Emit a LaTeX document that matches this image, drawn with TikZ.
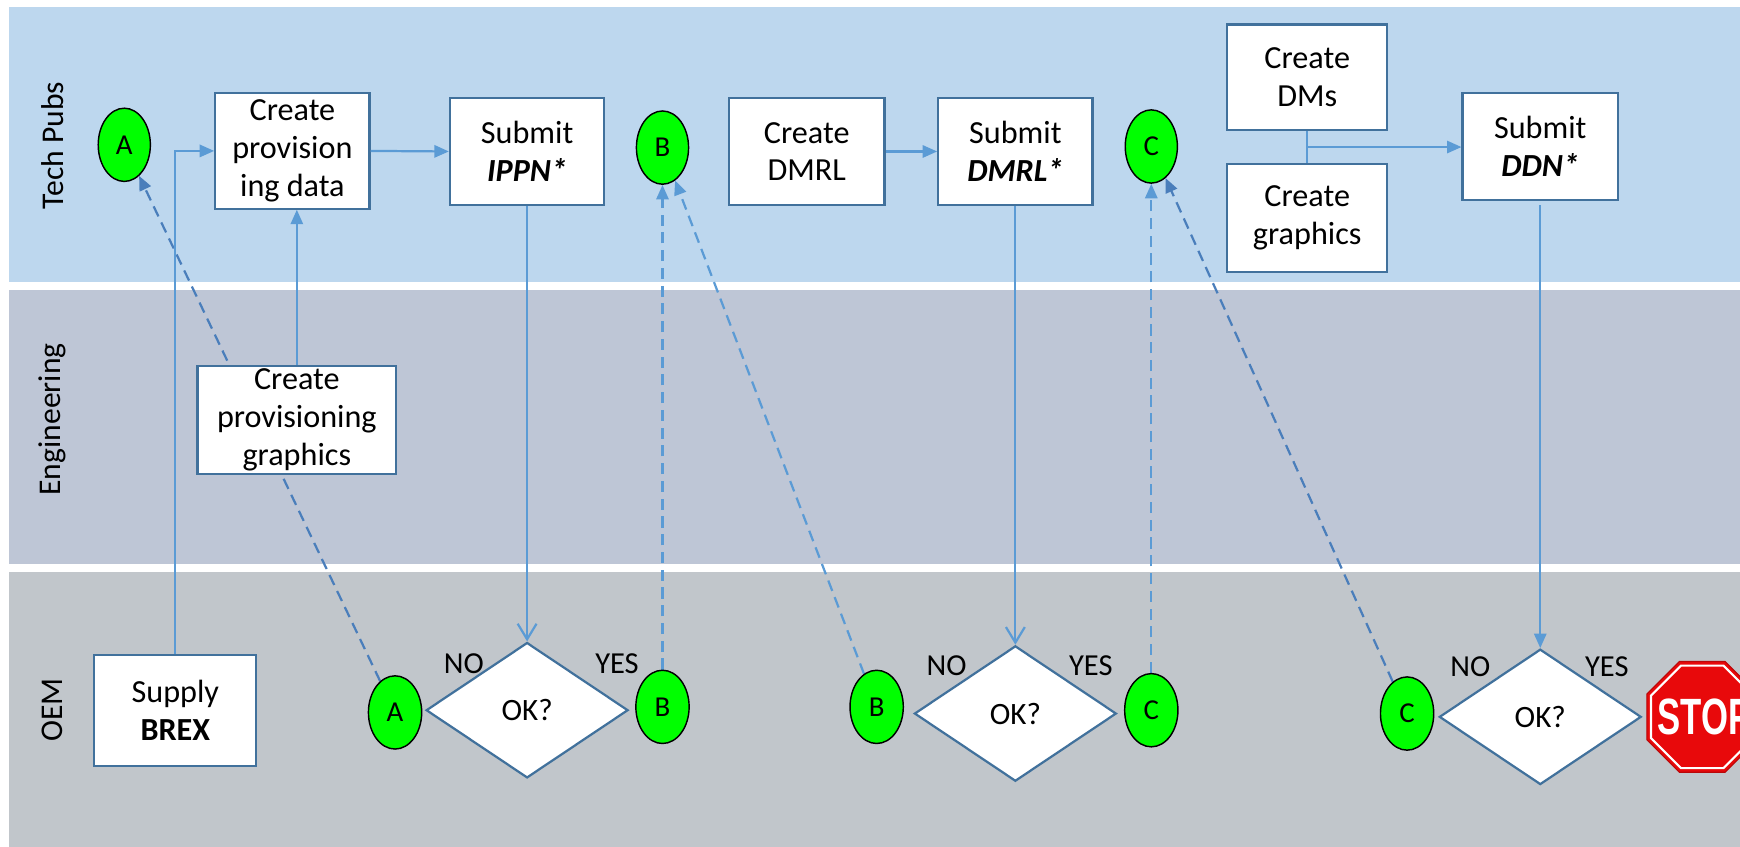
\documentclass[tikz,border=0pt]{standalone}
\usepackage{fontspec}
\setmainfont{Carlito}
\newfontfamily\stopfont{Liberation Sans}
\usetikzlibrary{shapes.geometric,arrows.meta,calc}
\definecolor{bandA}{HTML}{BDD7EE}
\definecolor{bandB}{HTML}{BEC6D6}
\definecolor{bandC}{HTML}{C1C6CB}
\definecolor{boxc}{HTML}{41719C}
\definecolor{lnc}{HTML}{5B9BD5}
\definecolor{dlnc}{HTML}{4A7EBB}
\definecolor{stopred}{HTML}{E8090B}
\definecolor{okgreen}{HTML}{00FF00}
\pgfdeclarelayer{bg}
\pgfdeclarelayer{lines}
\pgfsetlayers{bg,lines,main}
\tikzset{
  box/.style={draw=boxc, fill=white, line width=2pt, align=center, inner sep=0pt,
    font=\fontsize{29}{34}\selectfont},
  lane/.style={rotate=90, font=\fontsize{28.5}{32}\selectfont},
  ell/.style={ellipse, draw=black, fill=okgreen, line width=1.3pt, inner sep=0pt,
    minimum width=47pt, minimum height=66pt, font=\fontsize{26}{28}\selectfont},
  dia/.style={diamond, draw=boxc, fill=white, line width=2pt, inner sep=0pt, aspect=1.5,
    minimum width=182pt, minimum height=122pt, font=\fontsize{28}{32}\selectfont},
  lbl/.style={font=\fontsize{27.5}{30}\selectfont, inner sep=0pt},
  conn/.style={draw=lnc, line width=2pt},
  dconn/.style={draw=lnc, line width=2pt, dash pattern=on 10pt off 6pt},
  tri/.tip={Triangle[length=13pt,width=11pt]},
  barb/.tip={Straight Barb[length=14pt,width=17pt]},
}
\begin{document}
\begin{tikzpicture}[x=1pt,y=-1pt]
\clip (0,0) rectangle (1568,763);
\begin{pgfonlayer}{bg}
\fill[white] (0,0) rectangle (1568,763);
\fill[bandA] (8,6) rectangle (1568,254);
\fill[bandB] (8,261) rectangle (1568,508);
\fill[bandC] (8,515) rectangle (1568,763);
\end{pgfonlayer}

% lane labels
\node[lane] (L1) at (47,131) {Tech Pubs};
\node[lane] (L2) at (47,378) {Engineering};
\node[lane] (L3) at (47,640) {OEM};

% boxes
\node[box, minimum width=139pt, minimum height=104pt] (CPD) at (263.5,136) {Create\\provision\\ing data};
\node[box, minimum width=139pt, minimum height=97pt] (IPPN) at (475,136.5) {Submit\\\textbf{\textit{IPPN*}}};
\node[box, minimum width=140pt, minimum height=97pt] (DMRLc) at (727,136.5) {Create\\DMRL};
\node[box, minimum width=139pt, minimum height=97pt] (DMRLs) at (915,136.5) {Submit\\\textbf{\textit{DMRL*}}};
\node[box, minimum width=144pt, minimum height=95pt] (DMs) at (1178,69.5) {Create\\DMs};
\node[box, minimum width=144pt, minimum height=97pt] (GR) at (1178,196.5) {Create\\graphics};
\node[box, minimum width=140pt, minimum height=96pt] (DDN) at (1388,132) {Submit\\\textbf{\textit{DDN*}}};
\node[box, minimum width=179pt, minimum height=97pt] (CPG) at (267.5,378.5) {Create\\provisioning\\graphics};
\node[box, minimum width=146pt, minimum height=100pt] (BREX) at (158,640) {Supply\\\textbf{BREX}};

% connector circles
\node[ell] (A1) at (112,130.5) {A};
\node[ell] (B1) at (597,133) {B};
\node[ell] (C1) at (1037.5,132) {C};
\node[ell, minimum width=48pt] (A2) at (356,642) {A};
\node[ell, minimum width=48pt] (B2) at (597,637) {B};
\node[ell, minimum width=48pt] (B3) at (790,637) {B};
\node[ell, minimum width=48pt] (C2) at (1037.5,640) {C};
\node[ell, minimum width=48pt] (C3) at (1268,643) {C};

% decisions
\node[dia] (D1) at (475,640) {OK?};
\node[dia] (D2) at (915,643) {OK?};
\node[dia] (D3) at (1388,646) {OK?};
\node[lbl] (N1) at (418,598) {NO};
\node[lbl] (Y1) at (556,598) {YES};
\node[lbl] (N2) at (853,600) {NO};
\node[lbl] (Y2) at (983,600) {YES};
\node[lbl] (N3) at (1325,601) {NO};
\node[lbl] (Y3) at (1448,601) {YES};

% stop sign
\node[regular polygon, regular polygon sides=8, minimum size=108pt, inner sep=0pt,
  fill=stopred, draw=stopred!80!black, line width=1pt] (STOP) at (1534,646) {};
\node[regular polygon, regular polygon sides=8, minimum size=100pt, inner sep=0pt,
  draw=white, line width=2pt] (STOPin) at (STOP.center) {};
\node[text=white, inner sep=0pt, font=\stopfont\bfseries\fontsize{46}{46}\selectfont,
  xscale=0.68] (STOPt) at (1536,646) {STOP};

% solid connectors
\draw[conn, -tri] (BREX.north) |- (CPD.west);
\draw[conn, -tri] (CPG.north) -- (CPG.north |- CPD.south);
\draw[conn, -tri] (CPD.east) -- (IPPN.west);
\draw[conn, -barb] (IPPN.south) -- (D1.north);
\draw[conn, -tri] (DMRLc.east) -- (DMRLs.west);
\draw[conn, -barb] (DMRLs.south) -- (D2.north);
\draw[conn] (DMs.south) -- (GR.north);
\coordinate (J) at ($(DMs.south)!0.5!(GR.north)$);
\draw[conn, -tri] (J) -- (J -| DDN.west);
\coordinate (DDNs) at ([yshift=-4pt]DDN.south);
\draw[conn, -tri] (DDNs) -- (D3.north);

% dashed connectors (behind boxes)
\begin{pgfonlayer}{lines}
\draw[dconn, draw=dlnc, -tri] (A2) -- (A1);
\draw[dconn, -tri] (B2) -- (B1);
\draw[dconn, -tri] (B3) -- (B1);
\draw[dconn, -tri] (C2) -- (C1);
\draw[dconn, draw=dlnc, -tri] (C3) -- (C1);
\end{pgfonlayer}
\end{tikzpicture}
\end{document}
